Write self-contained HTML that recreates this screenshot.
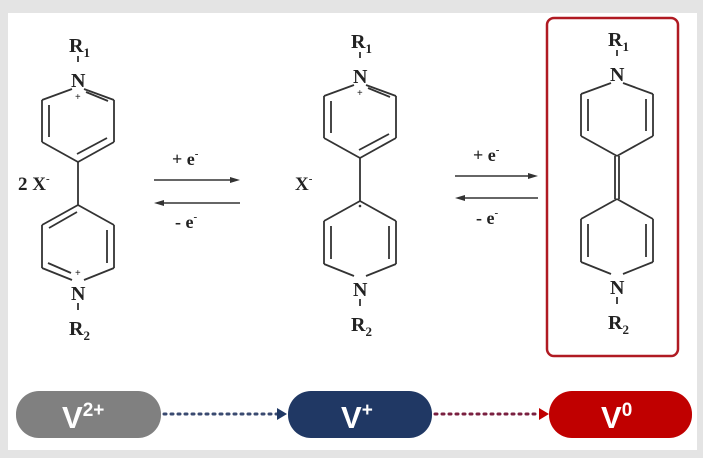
<!DOCTYPE html>
<html><head><style>
body{margin:0;background:#e4e4e4;width:703px;height:458px;overflow:hidden;font-family:"Liberation Serif",serif}
</style></head><body>
<svg width="703" height="458" style="position:absolute;left:0;top:0">
<rect x="8" y="13" width="689" height="437" fill="#fff"/>
<rect x="547" y="18" width="131" height="338" rx="7" fill="none" stroke="#b01a22" stroke-width="2.5"/>
<defs>
<g id="up" stroke="#333" stroke-width="1.8" fill="none">
<line x1="-6" y1="89" x2="-36" y2="100"/><line x1="6" y1="89" x2="36" y2="100"/>
<line x1="-36" y1="100" x2="-36" y2="142"/><line x1="36" y1="100" x2="36" y2="142"/>
<line x1="-36" y1="142" x2="0" y2="162"/><line x1="36" y1="142" x2="0" y2="162"/>
<line x1="0" y1="56" x2="0" y2="62"/>
</g>
<g id="dn" stroke="#333" stroke-width="1.8" fill="none">
<line x1="0" y1="205" x2="-36" y2="225"/><line x1="0" y1="205" x2="36" y2="225"/>
<line x1="-36" y1="225" x2="-36" y2="268"/><line x1="36" y1="225" x2="36" y2="268"/>
<line x1="-36" y1="268" x2="-6" y2="280"/><line x1="36" y1="268" x2="6" y2="280"/>
<line x1="0" y1="303" x2="0" y2="310"/>
</g>
</defs>
<g font-size="20" fill="#222" font-weight="bold">
<g transform="translate(78,0)">
<use href="#up"/><use href="#dn"/>
<g stroke="#333" stroke-width="1.8" fill="none">
<line x1="0" y1="162" x2="0" y2="205"/>
<line x1="-29" y1="105" x2="-29" y2="137"/><line x1="8" y1="92" x2="30" y2="101"/><line x1="-1" y1="154" x2="29" y2="138"/>
<line x1="-1" y1="212" x2="-29" y2="228"/><line x1="29" y1="230" x2="29" y2="263"/><line x1="-30" y1="263" x2="-7" y2="273"/>
</g>
<text x="-9" y="52">R<tspan font-size="13" dy="5">1</tspan></text>
<text x="-7" y="87">N</text><text x="-3" y="100" font-size="10">+</text>
<text x="-7" y="300">N</text><text x="-3" y="276" font-size="10">+</text>
<text x="-9" y="335">R<tspan font-size="13" dy="5">2</tspan></text>
</g>
<text x="18" y="190" font-size="19">2 X<tspan font-size="11" dy="-8">-</tspan></text>
<g transform="translate(360,-4)">
<use href="#up"/><use href="#dn"/>
<g stroke="#333" stroke-width="1.8" fill="none">
<line x1="0" y1="162" x2="0" y2="205"/>
<line x1="-29" y1="105" x2="-29" y2="137"/><line x1="8" y1="92" x2="30" y2="101"/><line x1="-1" y1="154" x2="29" y2="138"/>
<line x1="-29" y1="230" x2="-29" y2="263"/><line x1="29" y1="230" x2="29" y2="263"/>
</g>
<text x="-9" y="52">R<tspan font-size="13" dy="5">1</tspan></text>
<text x="-7" y="87">N</text><text x="-3" y="100" font-size="10">+</text>
<circle cx="0" cy="210" r="1.3" fill="#333"/>
<text x="-7" y="300">N</text>
<text x="-9" y="335">R<tspan font-size="13" dy="5">2</tspan></text>
</g>
<text x="295" y="190" font-size="19">X<tspan font-size="11" dy="-8">-</tspan></text>
<g transform="translate(617,-6)">
<use href="#up"/><use href="#dn"/>
<g stroke="#333" stroke-width="1.8" fill="none">
<line x1="-2" y1="162" x2="-2" y2="205"/><line x1="2" y1="162" x2="2" y2="205"/>
<line x1="-29" y1="105" x2="-29" y2="137"/><line x1="29" y1="105" x2="29" y2="137"/>
<line x1="-29" y1="230" x2="-29" y2="263"/><line x1="29" y1="230" x2="29" y2="263"/>
</g>
<text x="-9" y="52">R<tspan font-size="13" dy="5">1</tspan></text>
<text x="-7" y="87">N</text>
<text x="-7" y="300">N</text>
<text x="-9" y="335">R<tspan font-size="13" dy="5">2</tspan></text>
</g>
<g stroke="#333" stroke-width="1.5">
<line x1="154" y1="180" x2="232" y2="180"/><line x1="162" y1="203" x2="240" y2="203"/>
<line x1="455" y1="176" x2="530" y2="176"/><line x1="464" y1="198" x2="538" y2="198"/>
</g>
<g fill="#333">
<path d="M240 180 l-10 -3 v6z"/><path d="M154 203 l10 -3 v6z"/>
<path d="M538 176 l-10 -3 v6z"/><path d="M455 198 l10 -3 v6z"/>
</g>
<text x="172" y="165" font-size="18">+ e<tspan font-size="11" dy="-8">-</tspan></text>
<text x="175" y="228" font-size="18">- e<tspan font-size="11" dy="-8">-</tspan></text>
<text x="473" y="161" font-size="18">+ e<tspan font-size="11" dy="-8">-</tspan></text>
<text x="476" y="224" font-size="18">- e<tspan font-size="11" dy="-8">-</tspan></text>
</g>
<rect x="16" y="391" width="145" height="47" rx="23" fill="#808080"/>
<rect x="288" y="391" width="144" height="47" rx="23" fill="#203864"/>
<rect x="549" y="391" width="143" height="47" rx="23" fill="#c00000"/>
<line x1="164" y1="414" x2="278" y2="414" stroke="#3a4a70" stroke-width="3" stroke-dasharray="2 5" stroke-linecap="round"/>
<path d="M287 414 l-10 -6 v12z" fill="#203864"/>
<line x1="435" y1="414" x2="540" y2="414" stroke="#7a2040" stroke-width="3" stroke-dasharray="2 5" stroke-linecap="round"/>
<path d="M549 414 l-10 -6 v12z" fill="#c00000"/>
<g fill="#fff" font-family="Liberation Sans,sans-serif" font-size="31" font-weight="bold">
<text x="62" y="428">V<tspan font-size="19" dy="-12">2+</tspan></text>
<text x="341" y="428">V<tspan font-size="19" dy="-12">+</tspan></text>
<text x="601" y="428">V<tspan font-size="19" dy="-12">0</tspan></text>
</g>
</svg>
</body></html>
